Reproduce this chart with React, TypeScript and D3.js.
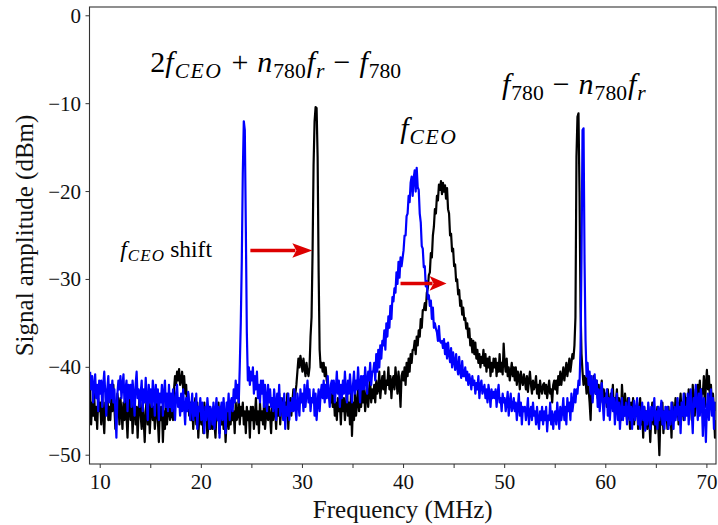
import React from 'react';
import * as d3 from 'd3';

// Spectrum analyser bins: start frequency and bin width (MHz)
const FREQ_START = 9.0;
const FREQ_STEP = 0.1;

// Black trace (dBm), one value per 0.1 MHz bin from 9.0 MHz
const BLACK_DBM = [
  -42.5,-46.5,-44,-45.5,-43,-46,-44.5,-47,-43.5,-45,
  -44,-46.5,-43,-45.5,-47.5,-44,-45,-42.5,-46,-44.5,
  -46,-43.5,-45,-42,-44.5,-47,-45.5,-43,-44,-46.5,
  -43.5,-45,-47,-44,-46,-43,-45.5,-48,-44.5,-43,
  -46,-44,-47.5,-45,-43.5,-46.5,-44.5,-48,-45,-43,
  -45.5,-47,-44,-46,-48.5,-45,-43.5,-46.5,-44,-47.5,
  -45,-43.5,-46,-44.5,-47,-45.5,-43,-46,-48.5,-44.5,
  -46,-44.5,-48.5,-45,-47,-43.5,-46.5,-45,-44,-46,
  -45.5,-44,-46,-42.5,-41,-42,-40.5,-41.5,-40.2,-42,
  -41.5,-40.5,-42.5,-41,-43,-42,-44.5,-43,-45.5,-44,
  -46,-44.5,-47,-45,-43.5,-46.5,-44,-48,-45.5,-44.5,
  -46.5,-45,-47.5,-44,-46,-45,-48,-46.5,-44.5,-47,
  -45.5,-47,-44.5,-46.5,-48,-45,-46,-44,-47.5,-45.5,
  -46.5,-44.5,-47,-45.5,-48.5,-46,-44,-47,-45,-46.5,
  -44.5,-46,-45,-47.5,-44,-46,-45.5,-43.5,-46.5,-44.5,
  -45.5,-44,-46.5,-45,-47.5,-44.5,-46,-45,-48,-44.5,
  -46,-44.5,-47,-45.5,-43.5,-46.5,-45,-47.5,-44,-46,
  -45,-46.5,-44,-47,-45.5,-43.5,-46,-44.5,-45.5,-47.5,
  -44.5,-46,-43.5,-45,-47,-44,-45.5,-43,-46.5,-44.5,
  -45,-43.5,-46,-44,-45.5,-43,-47,-44.5,-43.5,-45.5,
  -44,-42.5,-44.5,-43,-42,-40.5,-39,-40,-38.7,-39.5,
  -40.5,-39,-40,-41,-39.5,-40.5,-41,-40,-36.5,-34.3,
  -27,-17,-12,-10.4,-10.5,-16,-29,-38,-40,-39.5,
  -40.5,-39.5,-41,-40,-41.5,-42,-43.5,-42.5,-44,-43,
  -44.5,-43,-45.5,-44,-46,-43.5,-45,-44,-46.5,-43.5,
  -45,-43.5,-46,-44.5,-42.5,-45.5,-44,-46.5,-43,-47.8,
  -44,-46,-43,-45.5,-44,-42.5,-45,-43.5,-44.5,-42.5,
  -44,-42.5,-45,-43.5,-42,-44.5,-43,-41.5,-44,-42.5,
  -43.5,-42,-44,-41.5,-43,-42.5,-40.5,-43.5,-42,-41,
  -42.5,-40.5,-43,-41.5,-42,-40,-42.5,-41,-43.5,-41.5,
  -41,-42.5,-40,-41.5,-43,-40.5,-42,-44.5,-41,-40.5,
  -41.5,-40,-42,-39.5,-41,-39,-40.5,-38.5,-39.5,-38,
  -38,-37,-38.5,-36.5,-37.5,-35.8,-36.5,-34.5,-35.5,-33.5,
  -33.5,-32.7,-33.5,-31.5,-31,-29.5,-29.2,-27,-27.5,-25,
  -24,-22,-22.5,-20.5,-21,-19.2,-19.8,-18.8,-20.3,-19,
  -20,-19.3,-20.8,-19.6,-22,-22.5,-25,-24.8,-26.8,-26.5,
  -28.5,-28.3,-30.2,-30,-31.7,-31.2,-33,-32.4,-34,-33.2,
  -34.6,-34.4,-35.6,-35,-36.6,-35.6,-37.5,-36.8,-38.3,-37,
  -38.5,-37.2,-39,-38,-39.5,-38.5,-40,-38.8,-39.5,-38,
  -39.8,-38.5,-40.5,-39,-40,-38.8,-41,-39.5,-40.5,-39,
  -40,-39,-41,-39.5,-40.5,-38.5,-40.5,-39.5,-40.8,-37.3,
  -39.5,-40.5,-39,-41,-40,-41.5,-40.5,-39.5,-41,-40,
  -41.5,-40,-42,-40.5,-41,-42.5,-40.5,-41.5,-42,-40.8,
  -41.5,-42.5,-41,-42.8,-41.5,-40.5,-42,-43,-41.5,-42.5,
  -42,-41,-43,-42,-43.5,-41.5,-42.5,-43,-42,-41.8,
  -43,-42,-43.5,-42.5,-41.5,-43,-42.5,-44,-42,-41.5,
  -42.5,-41.5,-43,-41,-42,-40.5,-42,-41,-40,-41.5,
  -40.5,-39.5,-41,-40,-39,-40.5,-39.5,-38.5,-39,-37.5,
  -34.3,-16,-11.5,-11.1,-20,-33,-38.5,-40.5,-42,-41,
  -41.5,-43,-40.5,-42.5,-44,-46,-42,-43.5,-41,-42.5,
  -43,-41.5,-43.5,-42,-44.5,-43,-41.5,-44,-42.5,-43.5,
  -43,-44.5,-42.5,-44,-45.5,-43,-44,-42,-45,-43.5,
  -44,-42.5,-45,-43.5,-44.5,-46,-42,-44,-45.5,-43,
  -44.5,-46,-43.5,-45,-47,-44,-45.5,-43.5,-46.5,-44.5,
  -45.5,-44,-47,-45,-43.5,-46.5,-45,-48,-44.5,-46,
  -45,-47,-44.5,-46,-48.5,-45.5,-44,-46.5,-45,-47.5,
  -46,-44.5,-47,-50,-45.5,-46.5,-44,-47.5,-45,-46,
  -45,-47,-44.5,-46.5,-45,-48,-44,-46,-45.5,-43.5,
  -45.5,-44,-46.5,-44.5,-43,-45.5,-44,-46,-43,-44.5,
  -43.5,-45,-42.5,-44.5,-43,-46,-42,-44,-45.5,-42.5,
  -44,-42,-43.5,-41.5,-45,-42.5,-43,-41,-44.5,-42,
  -40.3,-42.5,-41,-43.5,-42,-44.5,-43,-45,-48,-46,
];

// Blue trace (dBm), same bins
const BLUE_DBM = [
  -40.5,-42.5,-41,-44,-42,-40.8,-43.5,-42,-45,-41.5,
  -43,-41.5,-44.5,-42,-40.5,-43,-45.5,-42.5,-41,-44,
  -42,-43.5,-41.5,-44,-42.5,-45,-48,-43,-41.5,-42.5,
  -41,-43.5,-42,-40.8,-44,-42.5,-41.5,-45,-42,-43.5,
  -42,-44.5,-41.5,-43,-45.5,-42,-40.5,-43.5,-42.5,-44.5,
  -43,-41.5,-45,-42.5,-44,-41.2,-43.5,-46,-42,-44,
  -42.5,-44.5,-41.5,-43,-45.5,-42,-44,-42.5,-46,-43,
  -44,-42,-45.5,-43,-41.5,-44.5,-43,-45,-42,-44.5,
  -43,-45,-42.5,-44,-46,-43,-42,-44.5,-43.5,-45.5,
  -43,-45,-42.5,-44.5,-46.5,-43.5,-45,-42.8,-44,-46,
  -44.5,-43,-46,-44,-45.5,-43,-47,-44.5,-45,-43.5,
  -46,-44,-45.5,-47.5,-44.5,-46,-43.5,-45,-47,-44.5,
  -45,-46.5,-44,-47,-45,-43.5,-46,-44.5,-48,-45,
  -44,-46,-43.5,-45.5,-47.5,-44,-45,-43,-46,-44,
  -43.5,-45,-42.5,-44,-41.5,-43.5,-42,-44,-40,-35,
  -28,-18,-12,-13,-24,-36,-41.5,-40,-42,-40.5,
  -41.5,-40,-43,-41,-42.5,-40.5,-43.5,-42,-44,-41.5,
  -43,-41.5,-44.5,-42,-43.5,-45,-42,-44,-42.5,-44.5,
  -43.5,-45,-42.5,-44,-46,-43,-44.5,-42,-45.5,-43.5,
  -44.5,-46,-43,-47,-44.5,-45.5,-43,-46,-44,-45,
  -43.5,-45,-42.5,-44.5,-46,-43,-44,-45.5,-42.5,-44,
  -43,-45,-42,-44.5,-43,-41.5,-44,-42.5,-45,-43.5,
  -44,-42.5,-45.5,-43,-46,-44,-42.5,-45,-43,-42,
  -43.5,-41.5,-44,-42,-43.5,-41,-43,-44.5,-42,-41.5,
  -43,-41.5,-44,-42.5,-40.5,-43,-41.5,-44.5,-42,-43.5,
  -41.5,-43,-40.5,-42.5,-44,-41.5,-43,-40.8,-42.5,-44,
  -42,-40.5,-43,-41.5,-42.5,-40,-42,-44,-41,-42.5,
  -41,-42.5,-40,-41.5,-43,-40.5,-41.5,-39.5,-42,-40.5,
  -40.5,-39.5,-41.5,-38.5,-40.5,-38,-40,-37.5,-39,-37,
  -37.5,-35.8,-38,-35,-36.5,-34.2,-35.5,-33,-34.5,-32,
  -32.5,-31,-31.5,-29.2,-30.5,-28,-29.8,-27.5,-28.5,-27.6,
  -26.7,-25,-25,-22.8,-22.5,-20.5,-21.2,-19,-18.3,-20.5,
  -18.5,-17.6,-20,-17.3,-19.5,-19.8,-22.5,-23.5,-26.2,-26.5,
  -28.6,-28.5,-30.8,-30.2,-32.2,-31.8,-33,-32.4,-34.5,-33.2,
  -35.5,-35,-35.6,-36,-37,-35.3,-37,-37.2,-37,-37.8,
  -36.8,-38.5,-37.3,-39,-37.2,-38.5,-39.4,-37.8,-40,-38.3,
  -39.3,-40.3,-38.5,-40,-40.8,-38.8,-40.5,-41.2,-39.3,-41,
  -41,-40,-41.5,-40.5,-42,-40.8,-41.5,-42.5,-41,-42,
  -41.5,-43,-41.8,-42.5,-41,-43.5,-42,-41.5,-43,-42.5,
  -42,-43.5,-42.5,-44,-42,-43,-44.5,-42.5,-43.5,-42.8,
  -43.5,-42.5,-44.5,-43,-42,-44,-43.5,-45,-43,-44,
  -43.5,-45,-44,-42.8,-45.5,-44,-43,-45,-44.5,-43.5,
  -45,-44,-46,-44.5,-43,-45.5,-44,-46.5,-44.5,-45,
  -44.5,-46,-45,-43.5,-46.5,-45,-44.5,-46,-44,-45.5,
  -45,-46.5,-44.5,-46,-47,-45,-46,-44.5,-46.5,-45,
  -46,-44.5,-47.3,-45.5,-46,-44,-46.5,-45,-47,-45.5,
  -45,-46.5,-44,-45.5,-47,-44.5,-46,-45,-43.5,-46,
  -44.5,-46.5,-43.5,-45,-44,-46,-43,-45,-44,-42.5,
  -44,-42.5,-43,-41.5,-42,-38,-27.4,-13,-12.8,-28,
  -37,-41,-39.5,-42,-40.5,-43,-41,-44,-42,-40.8,
  -43,-41.5,-44.5,-42.5,-45,-43,-41.8,-44,-46,-43.5,
  -44,-42.5,-45.5,-43.5,-46,-44,-42.5,-45,-43.5,-46.5,
  -44.5,-43,-46,-44,-47,-45,-43.5,-46,-44.5,-45.5,
  -44,-46.5,-45,-43.5,-46,-44.5,-47,-45,-43.8,-46,
  -45,-43.5,-46.5,-44.5,-47,-45.5,-44,-46,-44.5,-47.2,
  -45,-46.5,-44,-45.5,-47,-44.5,-46,-45,-43.5,-46.5,
  -45,-47,-44.5,-46,-45,-43.8,-46.5,-45,-47,-44.5,
  -46,-44.5,-47,-45,-46.5,-44,-45.5,-47,-44.5,-46,
  -45,-43.5,-46,-44.5,-47.5,-44,-45.5,-43,-46,-44.5,
  -45.5,-43,-46.5,-44,-42.5,-45,-47.5,-43.5,-44.5,-42,
  -44,-46,-43,-45.5,-42.5,-44,-47.8,-43.5,-45,-48.5,
  -44.5,-43,-46,-44,-42.5,-45.5,-43.5,-47,-44,-45,
];

const X_TICKS = [10, 15, 20, 25, 30, 35, 40, 45, 50, 55, 60, 65, 70];
const X_TICK_LABELS = [10, 20, 30, 40, 50, 60, 70];
const Y_TICKS = [0, -10, -20, -30, -40, -50];
const X_DOMAIN = [8.94, 70.9];
const Y_DOMAIN = [1, -51];

// Arrow annotations in data coordinates: [fromMHz, toMHz, dBm]
const ARROWS = [
  [24.85, 30.98, -26.7],
  [39.7, 44.25, -30.45],
];

type Seg = { t: string; it?: boolean; sub?: boolean; dx?: number; ls?: number };

const FONT = 'Liberation Serif, DejaVu Serif, Noto Serif, Times New Roman, serif';

function MathText({ x, y, size, segs }: { x: number; y: number; size: number; segs: Seg[] }) {
  let cur = 0;
  return (
    <text x={x} y={y} style={{ fontFamily: FONT, fontSize: size }} fill="#000">
      {segs.map((s, k) => {
        const target = s.sub ? size * 0.2 : 0;
        const dy = target - cur;
        cur = target;
        return (
          <tspan
            key={k}
            dy={dy}
            dx={s.dx}
            style={{
              fontSize: s.sub ? size * 0.72 : size,
              fontStyle: s.it ? 'italic' : 'normal',
              letterSpacing: s.ls ? s.ls : 0,
            }}
          >
            {s.t}
          </tspan>
        );
      })}
    </text>
  );
}

export default function App() {
  const W = 718;
  const H = 525;
  const left = 89.5, right = 716, top = 7, bottom = 464;
  const x = d3.scaleLinear().domain(X_DOMAIN).range([left, right]);
  const y = d3.scaleLinear().domain(Y_DOMAIN).range([top, bottom]);

  const line = d3
    .line<number>()
    .x((_, i) => x(FREQ_START + i * FREQ_STEP))
    .y((d) => y(d));

  const axisColor = '#333';
  const textColor = '#111';
  const red = '#dd0000';
  const tickStyle = { fontFamily: FONT, fontSize: 21 };
  const labelStyle = { fontFamily: FONT, fontSize: 25 };

  return (
    <svg
      width={W}
      height={H}
      style={{ position: 'absolute', left: 0, top: 0, display: 'block', background: '#fff' }}
    >
      <defs>
        <clipPath id="plotclip">
          <rect x={left} y={top} width={right - left} height={bottom - top} />
        </clipPath>
      </defs>

      <g clipPath="url(#plotclip)">
        <path d={line(BLACK_DBM) || ''} fill="none" stroke="#000" strokeWidth={2.2} strokeLinejoin="round" />
        <path d={line(BLUE_DBM) || ''} fill="none" stroke="#0000ff" strokeWidth={2.2} strokeLinejoin="round" />
      </g>

      {/* frame */}
      <rect x={left} y={top} width={right - left} height={bottom - top} fill="none" stroke={axisColor} strokeWidth={1.1} />

      {/* x ticks */}
      {X_TICKS.map((t) => (
        <line key={'xt' + t} x1={x(t)} x2={x(t)} y1={bottom} y2={bottom + 4} stroke={axisColor} strokeWidth={1} />
      ))}
      {X_TICK_LABELS.map((t) => (
        <text key={'xl' + t} x={x(t)} y={489} textAnchor="middle" style={tickStyle} fill={textColor}>
          {t}
        </text>
      ))}

      {/* y ticks */}
      {Y_TICKS.map((t) => (
        <g key={'yt' + t}>
          <line x1={left - 4} x2={left} y1={y(t)} y2={y(t)} stroke={axisColor} strokeWidth={1} />
          <text x={81} y={y(t) + 7} textAnchor="end" style={tickStyle} fill={textColor}>
            {t < 0 ? '\u2212' + Math.abs(t) : String(t)}
          </text>
        </g>
      ))}

      {/* axis labels */}
      <text x={(left + right) / 2} y={518} textAnchor="middle" style={labelStyle} fill={textColor}>
        Frequency (MHz)
      </text>
      <text
        transform={`translate(32.5, ${(top + bottom) / 2}) rotate(-90)`}
        textAnchor="middle"
        style={labelStyle}
        fill={textColor}
      >
        Signal amplitude (dBm)
      </text>

      {/* annotations */}
      <MathText
        x={x(14.96)}
        y={y(-6.4)}
        size={30}
        segs={[
          { t: '2' },
          { t: 'f', it: true },
          { t: 'CEO', it: true, sub: true, dx: 1, ls: 1.5 },
          { t: '+', dx: 9 },
          { t: 'n', it: true, dx: 9 },
          { t: '780', sub: true, dx: 1 },
          { t: 'f', it: true, dx: 1 },
          { t: 'r', it: true, sub: true, dx: 1 },
          { t: '\u2212', dx: 9 },
          { t: 'f', it: true, dx: 9 },
          { t: '780', sub: true, dx: 1 },
        ]}
      />
      <MathText
        x={x(39.67)}
        y={y(-13.9)}
        size={30}
        segs={[{ t: 'f', it: true }, { t: 'CEO', it: true, sub: true, dx: 1, ls: 1.5 }]}
      />
      <MathText
        x={x(49.73)}
        y={y(-8.9)}
        size={30}
        segs={[
          { t: 'f', it: true },
          { t: '780', sub: true, dx: 1 },
          { t: '\u2212', dx: 9 },
          { t: 'n', it: true, dx: 9 },
          { t: '780', sub: true, dx: 1 },
          { t: 'f', it: true, dx: 1 },
          { t: 'r', it: true, sub: true, dx: 1 },
        ]}
      />
      <MathText
        x={x(11.98)}
        y={y(-27.4)}
        size={23.5}
        segs={[
          { t: 'f', it: true },
          { t: 'CEO', it: true, sub: true, dx: 1, ls: 1.2 },
          { t: 'shift', dx: 5 },
        ]}
      />

      {/* red arrows */}
      {ARROWS.map(([f0, f1, v], k) => {
        const x0 = x(f0), x1 = x(f1), yy = y(v);
        const hl = k === 0 ? 20 : 17;
        const hw = 7.3;
        return (
          <g key={'ar' + k}>
            <line x1={x0} x2={x1 - hl + 3} y1={yy} y2={yy} stroke={red} strokeWidth={3.5} />
            <path
              d={`M${x1},${yy} L${x1 - hl},${yy - hw} L${x1 - hl + 4},${yy} L${x1 - hl},${yy + hw} Z`}
              fill={red}
            />
          </g>
        );
      })}
    </svg>
  );
}
